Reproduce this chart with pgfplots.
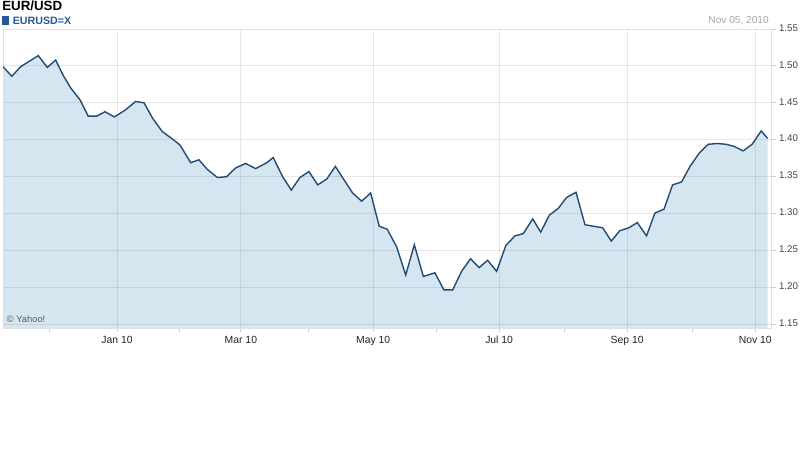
\documentclass[border=0pt]{standalone}
\usepackage{fontspec}
\setmainfont{Liberation Sans}
\usepackage{pgfplots}
\pgfplotsset{compat=1.18}
\usepackage{pgfplotstable}
\definecolor{linec}{HTML}{234B73}
\definecolor{fillc}{HTML}{D6E6F1}
\definecolor{subc}{HTML}{25598F}
\definecolor{ylab}{HTML}{444444}
\definecolor{xlab}{HTML}{222222}

% day 0 = 1 Jan 2010
\pgfplotstableread{
d v
-54.3 1.499
-50.1 1.486
-45.9 1.499
-41.4 1.507
-37.5 1.514
-33.2 1.498
-29.2 1.508
-25.6 1.487
-22.0 1.470
-17.6 1.454
-13.7 1.432
-9.7 1.432
-5.7 1.438
-1.3 1.431
3.8 1.440
8.9 1.452
12.9 1.450
17.0 1.429
21.6 1.411
26.0 1.402
30.0 1.393
35.1 1.369
39.0 1.373
43.0 1.360
47.8 1.349
52.2 1.350
56.5 1.362
61.3 1.368
66.0 1.361
71.3 1.369
74.4 1.376
78.9 1.350
83.0 1.332
87.1 1.349
91.4 1.357
95.6 1.339
99.9 1.347
104.0 1.364
108.1 1.346
112.2 1.328
116.5 1.317
120.8 1.328
124.9 1.283
128.7 1.279
133.2 1.255
137.5 1.217
141.6 1.258
145.9 1.215
151.4 1.220
155.7 1.197
159.9 1.197
164.1 1.222
168.4 1.239
172.5 1.227
176.5 1.237
180.8 1.222
185.2 1.257
189.5 1.270
193.5 1.273
198.0 1.293
201.8 1.275
205.9 1.298
210.1 1.307
214.1 1.322
218.6 1.329
222.9 1.285
227.1 1.283
231.3 1.281
235.4 1.263
239.5 1.277
243.8 1.281
247.8 1.288
252.2 1.270
256.2 1.301
260.5 1.306
264.6 1.339
268.9 1.343
272.9 1.364
277.3 1.382
281.6 1.394
285.9 1.395
290.0 1.394
294.0 1.391
298.2 1.385
302.5 1.394
306.8 1.412
309.9 1.402
}\eurusd

\begin{document}
\begin{tikzpicture}
\begin{axis}[
  set layers,
  at={(2.25pt,-246pt)}, anchor=south west,
  scale only axis, width=576.5pt, height=224.25pt,
  xmin=-54.3, xmax=311.8, ymin=1.1453, ymax=1.55,
  xtick={0,59,122,182,243,304},
  xticklabels={Jan 10,Mar 10,May 10,Jul 10,Sep 10,Nov 10},
  minor xtick={-32,30,91,152,213,274},
  ytick={1.15,1.20,1.25,1.30,1.35,1.40,1.45,1.50,1.55},
  yticklabels={1.15,1.20,1.25,1.30,1.35,1.40,1.45,1.50,1.55},
  yticklabel pos=right,
  xtick pos=bottom, ytick pos=right,
  typeset ticklabels with strut,
  xmajorgrids, ymajorgrids,
  major grid style={black, opacity=0.09, line width=0.75pt},
  axis line style={draw=black!12, line width=0.75pt},
  tick align=outside,
  major tick length=3pt, minor tick length=3pt,
  tick style={black!20, line width=0.75pt},
  xticklabel style={font=\fontsize{7.8}{9}\selectfont, text=xlab, yshift=1.5pt},
  yticklabel style={font=\fontsize{7.3}{8}\selectfont, text=ylab, anchor=west, xshift=-1pt},
  clip=true,
]
\addplot[on layer=axis background, fill=fillc, draw=none] table[x=d,y=v]{\eurusd} \closedcycle;
\addplot[linec, line width=1.05pt, line join=miter] table[x=d,y=v]{\eurusd};
\end{axis}
\node[anchor=base west, inner sep=0pt, font=\fontsize{10}{12}\selectfont\bfseries] at (1.5pt,-7.9pt) {EUR/USD};
\node[anchor=base west, inner sep=0pt, font=\fontsize{8}{10}\selectfont\bfseries, text=subc] at (1.3pt,-18.4pt) {\rule{5.5pt}{6.2pt}\hspace{2.6pt}EURUSD=X};
\node[anchor=base east, inner sep=0pt, font=\fontsize{7.6}{9}\selectfont, text=black!35] at (576.75pt,-17.25pt) {Nov 05, 2010};
\node[anchor=base west, inner sep=0pt, font=\fontsize{7}{8}\selectfont, text=black!65] at (5pt,-241.5pt) {\textcopyright{} Yahoo!};
\pgfresetboundingbox
\path[use as bounding box] (0,0) rectangle (600pt,-356.25pt);
\end{tikzpicture}
\end{document}
